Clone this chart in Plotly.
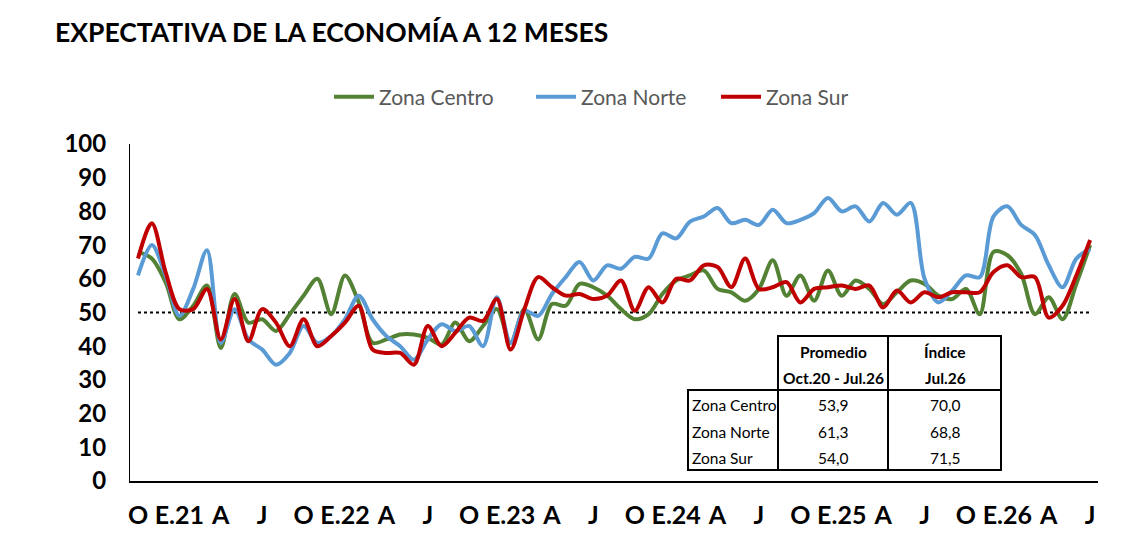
import plotly.graph_objects as go

# monthly index, Oct.20 .. Jul.26
month_abbr = ["E", "F", "M", "A", "My", "J", "Jl", "Ag", "S", "O", "N", "D"]
months = []
for year in range(2020, 2027):
    for m in range(12):
        if (year == 2020 and m < 9) or (year == 2026 and m > 6):
            continue
        months.append(f"{month_abbr[m]}.{str(year)[2:]}")

tick_labels = ["O", "E.21", "A", "J", "O", "E.22", "A", "J", "O", "E.23", "A", "J",
               "O", "E.24", "A", "J", "O", "E.25", "A", "J", "O", "E.26", "A", "J"]

zona_centro = [68, 66, 59, 48, 52, 58, 39.5, 55.5, 47, 48,
               44.5, 49.5, 55, 60, 49.5, 61, 53, 41, 42, 43.5,
               43.5, 42.5, 40.5, 47, 41.5, 46, 51, 41, 51, 42,
               52.5, 52, 58.5, 57.5, 55, 51, 48, 49.5, 55.5, 59.5,
               61, 62.5, 57, 56, 53.5, 57, 65.5, 55, 61, 53.5,
               62.5, 55, 59.5, 57, 52.5, 56, 59.5, 58.5, 55, 54,
               57, 49.5, 68, 67, 61.5, 49.5, 54.5, 48, 58.5, 70]

zona_norte = [61, 70, 61, 49, 57, 68.5, 41, 51, 42, 39,
              34.5, 38, 46, 41, 43, 48, 55, 48, 43, 40,
              36, 42, 46.5, 44.5, 46, 40, 54.5, 41, 50.5, 49,
              55.5, 60.5, 65, 59.5, 64, 63, 66.5, 66, 73.5, 72,
              77, 78.5, 81, 76.5, 77.5, 76, 80.5, 76.5, 77.5, 79.5,
              84, 80, 81.5, 77, 82.5, 79, 82.5, 60, 53, 56.5,
              61, 60.5, 78.5, 81.5, 76, 73, 64, 57.5, 66, 68.8]

zona_sur = [66, 76.5, 62, 51, 51, 57, 42, 54, 41.5, 51,
            47, 40, 48, 40, 43, 47, 52, 39, 38, 38,
            34.5, 46, 40, 44, 48.5, 47.5, 54, 39, 51, 60.5,
            57.5, 55, 55.5, 54, 55, 59.5, 50.5, 57.5, 53, 60,
            59.5, 64, 63.5, 57.5, 66, 57, 57.5, 59, 53, 57,
            57.5, 58, 57, 58, 51.5, 56.5, 53, 56, 54.5, 56,
            56, 56, 62, 64, 60.5, 60.5, 48.5, 52, 61, 71.5]

neutral = 50

table_rows = ["Zona Centro", "Zona Norte", "Zona Sur"]
table_avg = ["53,9", "61,3", "54,0"]
table_idx = ["70,0", "68,8", "71,5"]

FONT = "Lato"

# the page adds an 8px body margin, so layout is placed 8px up/left
OFF = 8
# plot area as seen in the picture: x 130..1098, y 144..481
L, R, T, B = 130, 1098, 144, 481


def px(x):
    return (x - L) / (R - L)


def py(y):
    return (B - y) / (B - T)


series = [("Zona Centro", zona_centro, "#548235", "legend", 329),
          ("Zona Norte", zona_norte, "#5B9BD5", "legend2", 531),
          ("Zona Sur", zona_sur, "#C00000", "legend3", 716)]

fig = go.Figure()
legends = {}
for name, vals, color, leg, lx in series:
    fig.add_trace(go.Scatter(x=months, y=vals, name=name, mode="lines", legend=leg,
                             line=dict(color=color, width=4, shape="spline", smoothing=0.9)))
    legends[leg] = dict(orientation="h", x=px(lx), xanchor="left", y=py(97), yanchor="middle",
                        font=dict(family=FONT, size=21, color="#595959"), itemwidth=40,
                        bgcolor="rgba(0,0,0,0)")

# dotted 50 line
fig.add_shape(type="line", xref="x", yref="y", x0=0, x1=len(months) - 1, y0=neutral, y1=neutral,
              line=dict(color="black", width=2, dash="dot"), layer="below")

# table frame
black = dict(color="black", width=2)
fig.add_shape(type="rect", xref="paper", yref="paper", x0=px(778), x1=px(1001),
              y0=py(390), y1=py(336), line=black)
fig.add_shape(type="rect", xref="paper", yref="paper", x0=px(688), x1=px(1001),
              y0=py(470), y1=py(390), line=black)
fig.add_shape(type="line", xref="paper", yref="paper", x0=px(888), x1=px(888),
              y0=py(470), y1=py(336), line=black)
fig.add_shape(type="line", xref="paper", yref="paper", x0=px(778), x1=px(778),
              y0=py(470), y1=py(390), line=black)

tfont = dict(family=FONT, size=15.5, color="black")
for txt, x, y in [("<b>Promedio</b>", 833, 352), ("<b>Oct.20 - Jul.26</b>", 833, 378),
                  ("<b>Índice</b>", 945, 352), ("<b>Jul.26</b>", 945, 378)]:
    fig.add_annotation(x=px(x), y=py(y), xref="paper", yref="paper", text=txt,
                       showarrow=False, font=tfont, xanchor="center", yanchor="middle")
for k, (lab, a, b) in enumerate(zip(table_rows, table_avg, table_idx)):
    y = 405 + k * 26.5
    fig.add_annotation(x=px(690), y=py(y), xref="paper", yref="paper", text=lab,
                       showarrow=False, font=tfont, xanchor="left", yanchor="middle")
    fig.add_annotation(x=px(833), y=py(y), xref="paper", yref="paper", text=a,
                       showarrow=False, font=tfont, xanchor="center", yanchor="middle")
    fig.add_annotation(x=px(945), y=py(y), xref="paper", yref="paper", text=b,
                       showarrow=False, font=tfont, xanchor="center", yanchor="middle")

fig.update_layout(
    width=1148, height=556,
    margin=dict(l=L - OFF, r=1148 - R + OFF, t=T - OFF, b=556 - B + OFF),
    paper_bgcolor="white", plot_bgcolor="white",
    font=dict(family=FONT, color="black"),
    title=dict(text="<b>EXPECTATIVA DE LA ECONOMÍA A 12 MESES</b>", x=(55 - OFF) / 1148,
               xanchor="left", y=1 - (33 - OFF) / 556, yanchor="middle",
               font=dict(family=FONT, size=26.5, color="black")),
    showlegend=True,
    **legends,
)
fig.update_xaxes(type="category", range=[-0.58, len(months) - 0.43],
                 tickvals=months[::3], ticktext=tick_labels, ticks="",
                 tickfont=dict(family=FONT, size=25, color="black", weight="bold"),
                 ticklabelstandoff=11,
                 showline=True, linecolor="black", linewidth=2, showgrid=False, zeroline=False)
fig.update_yaxes(range=[0, 100], dtick=10, ticks="", showgrid=False, zeroline=False,
                 showline=True, linecolor="black", linewidth=1,
                 tickfont=dict(family=FONT, size=24, color="black", weight="bold"),
                 ticklabelstandoff=18)

fig.write_html("out.html")
